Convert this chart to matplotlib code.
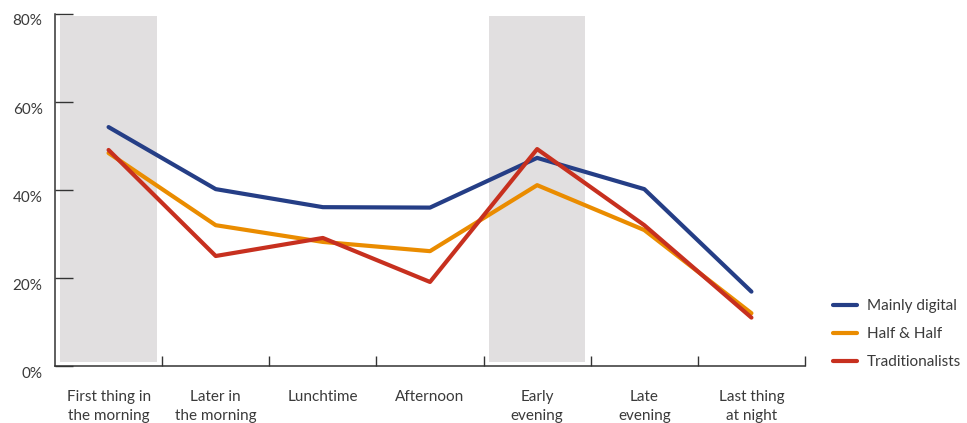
import numpy as np
import matplotlib
matplotlib.use('Agg')
import matplotlib.pyplot as plt
from matplotlib.transforms import ScaledTranslation

# ---------------------------------------------------------
# DATA
# ---------------------------------------------------------
categories = ["First thing in\nthe morning", "Later in\nthe morning", "Lunchtime",
              "Afternoon", "Early\nevening", "Late\nevening", "Last thing\nat night"]
mainly_digital = [54.3, 40.2, 36.1, 36.0, 47.3, 40.2, 16.9]
half_and_half = [48.4, 32.0, 28.2, 26.1, 41.1, 30.9, 12.0]
traditionalists = [49.1, 25.0, 29.1, 19.1, 49.3, 32.0, 11.0]
shaded = [0, 4]  # highlighted time slots
y_ticks = [0, 20, 40, 60, 80]

COLORS = {"Mainly digital": "#253e86", "Half & Half": "#ea8c00", "Traditionalists": "#c7301f"}
AXIS_COLOR = "#333333"
TEXT_COLOR = "#3a3a3a"

plt.rcParams['font.family'] = ['Lato', 'DejaVu Sans']

fig = plt.figure(figsize=(9.67, 4.23), dpi=100)
ax = fig.add_axes([55 / 967, 1 - 366 / 423, 750 / 967, 352 / 423])

x = np.arange(len(categories)) + 0.5

for i in shaded:
    ax.axvspan(i + 0.05, i + 0.95, ymin=0.012, ymax=0.995, color="#e1dfe0", lw=0, zorder=0)

series = [("Mainly digital", mainly_digital), ("Half & Half", half_and_half),
          ("Traditionalists", traditionalists)]
for name, vals in series:
    ax.plot(x, vals, color=COLORS[name], lw=3.0, solid_capstyle='round', label=name, zorder=3)

ax.set_xlim(0, len(categories))
ax.set_ylim(0, 80)

for side in ["top", "right"]:
    ax.spines[side].set_visible(False)
for side in ["left", "bottom"]:
    ax.spines[side].set_color(AXIS_COLOR)
    ax.spines[side].set_linewidth(1.1)

# y axis: inward ticks, labels slightly below tick lines
ax.set_yticks(y_ticks)
ax.set_yticklabels([f"{v}%" for v in y_ticks])
ax.tick_params(axis='y', direction='in', length=13, width=1.0, color=AXIS_COLOR,
               labelsize=11, labelcolor=TEXT_COLOR, pad=9)
for lab in ax.get_yticklabels():
    lab.set_transform(lab.get_transform() + ScaledTranslation(0, -6 / 100, fig.dpi_scale_trans))

# x axis: boundary ticks pointing up, labels at category centres
ax.set_xticks(np.arange(1, len(categories) + 1))
ax.set_xticklabels([])
ax.tick_params(axis='x', which='major', direction='in', length=7.5, width=1.0, color=AXIS_COLOR)
ax.set_xticks(x, minor=True)
ax.set_xticklabels(categories, minor=True, fontsize=11, color=TEXT_COLOR, linespacing=1.45)
ax.tick_params(axis='x', which='minor', length=0, pad=17)

fig.legend(loc='center left', bbox_to_anchor=(833 / 967, 1 - 334 / 423), frameon=False,
           fontsize=11, handlelength=1.6, handletextpad=0.6, labelspacing=0.92,
           borderpad=0, borderaxespad=0, labelcolor=TEXT_COLOR)

fig.savefig("out.png", dpi=100)
